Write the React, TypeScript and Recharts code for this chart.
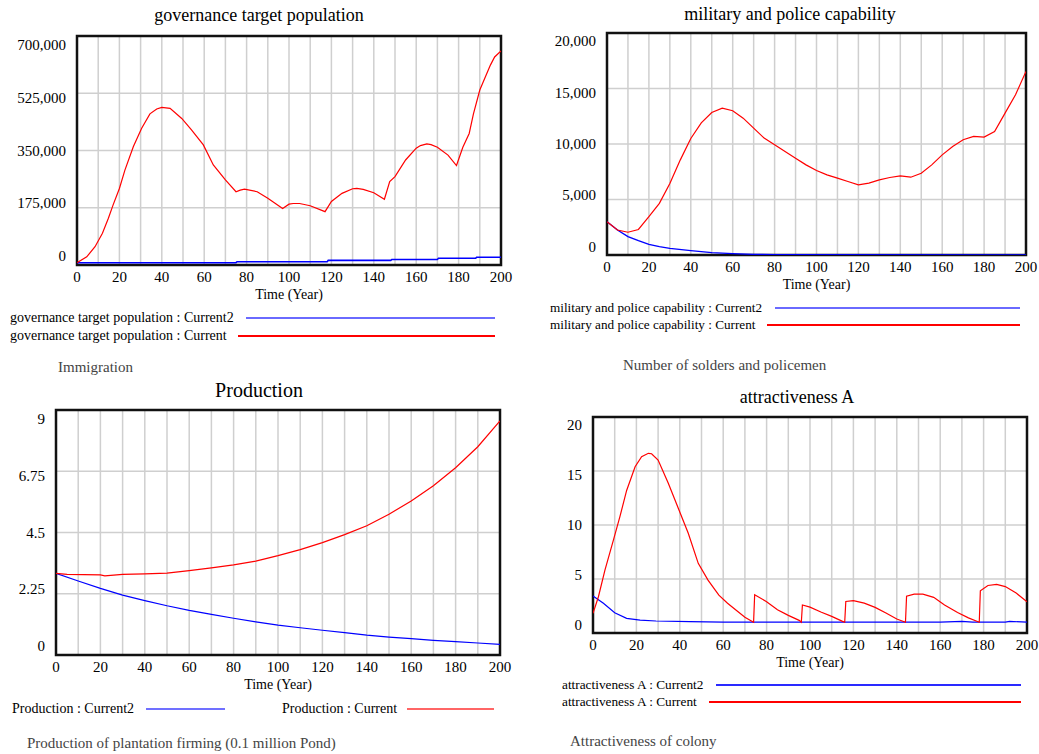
import React from "react"
import { LineChart, Line, XAxis, YAxis, CartesianGrid, ReferenceArea } from "recharts"

// x axis: years, grid every 10, labels every 20
const yearTicks = [0, 10, 20, 30, 40, 50, 60, 70, 80, 90, 100, 110, 120, 130, 140, 150, 160, 170, 180, 190, 200]

// governance target population
const govCurrentTime = [0, 4.6, 8.5, 12, 14.8, 17, 20, 22.6, 26.6, 30.5, 34.4, 37.6, 40, 43.9, 49.4, 54, 59.6, 64.3, 70, 75, 77, 79, 85, 90, 97, 100, 102, 105, 110, 117, 120, 125, 130, 132, 135, 140, 145, 147.5, 150, 155, 160, 162, 165, 167, 170, 175, 179, 182, 185, 187, 190, 195, 197, 200]
const govCurrent = [7000, 25000, 56000, 97000, 143000, 183000, 234000, 290000, 362000, 418000, 462000, 477000, 482000, 479000, 448000, 413000, 367000, 306000, 260000, 224000, 229000, 232000, 224000, 204000, 173000, 186000, 188000, 188000, 181000, 163000, 194000, 219000, 233000, 234000, 231000, 221000, 201000, 255000, 270000, 321000, 357000, 365000, 370000, 368000, 360000, 336000, 304000, 360000, 402000, 462000, 535000, 611000, 636000, 654000]
const govCurrent2Time = [0, 75, 75.5, 118, 118.5, 148, 148.5, 170, 170.5, 188, 188.5, 200]
const govCurrent2 = [7000, 7000, 10000, 10000, 14000, 14000, 17000, 17000, 20500, 20500, 23500, 23500]
const govYTicks = [0, 175000, 350000, 525000, 700000]

// military and police capability
const milCurrentTime = [0, 5, 10, 15, 20, 25, 30, 35, 40, 45, 50, 55, 60, 65, 70, 75, 80, 85, 90, 95, 100, 105, 110, 115, 120, 125, 130, 135, 140, 145, 150, 155, 160, 165, 170, 175, 180, 185, 190, 195, 200]
const milCurrent = [3000, 2250, 2050, 2300, 3450, 4650, 6450, 8570, 10500, 11900, 12840, 13230, 13000, 12330, 11430, 10530, 9930, 9330, 8720, 8120, 7610, 7220, 6920, 6620, 6320, 6470, 6770, 6980, 7130, 7010, 7370, 8120, 9020, 9780, 10380, 10680, 10620, 11130, 12780, 14440, 16540]
const milCurrent2Time = [0, 5, 10, 15, 20, 25, 30, 40, 50, 60, 70, 80, 200]
const milCurrent2 = [3000, 2250, 1650, 1290, 960, 750, 600, 390, 210, 120, 60, 20, 10]
const milYTicks = [0, 5000, 10000, 15000, 20000]

// production
const prodCurrentTime = [0, 5, 20, 22, 30, 40, 50, 60, 70, 80, 90, 100, 110, 120, 130, 140, 150, 160, 170, 180, 190, 200]
const prodCurrent = [3.0, 2.96, 2.94, 2.91, 2.96, 2.98, 3.01, 3.1, 3.2, 3.31, 3.45, 3.65, 3.87, 4.13, 4.42, 4.75, 5.17, 5.66, 6.22, 6.88, 7.65, 8.6]
const prodCurrent2Time = [0, 10, 20, 30, 40, 50, 60, 70, 80, 90, 100, 110, 120, 130, 140, 150, 160, 170, 180, 190, 200]
const prodCurrent2 = [3.0, 2.72, 2.45, 2.2, 2.0, 1.81, 1.64, 1.49, 1.35, 1.22, 1.1, 1.0, 0.91, 0.82, 0.73, 0.66, 0.6, 0.54, 0.49, 0.44, 0.39]
const prodYTicks = [0, 2.25, 4.5, 6.75, 9]

// attractiveness A
const attrCurrentTime = [0, 2.5, 5.5, 9.4, 12.4, 15.5, 19.4, 22.4, 25.5, 27, 30, 34.7, 39.3, 43.9, 48.5, 53, 58, 62, 66, 70, 74, 74.5, 80, 85, 90, 95, 96, 96.5, 100, 105, 110, 115, 116, 116.5, 120, 125, 130, 135, 140, 144, 144.5, 148, 152, 157, 162, 168, 173, 178, 178.5, 182, 186, 190, 195, 200]
const attrCurrent = [1.82, 3.36, 5.83, 8.6, 10.77, 13.2, 15.4, 16.33, 16.64, 16.6, 16.02, 13.86, 11.55, 9.23, 6.45, 4.9, 3.5, 2.75, 2.1, 1.45, 1.0, 3.54, 2.9, 2.15, 1.63, 1.17, 1.0, 2.6, 2.4, 1.94, 1.54, 1.08, 1.0, 2.92, 3.0, 2.77, 2.37, 1.85, 1.3, 1.0, 3.4, 3.6, 3.6, 3.3, 2.6, 1.9, 1.4, 1.0, 3.9, 4.4, 4.5, 4.3, 3.7, 2.9]
const attrCurrent2Time = [0, 4.8, 10, 15.5, 21.7, 29, 44.7, 60, 80, 100, 120, 140, 160, 170, 175, 190, 192, 200]
const attrCurrent2 = [3.43, 2.75, 1.88, 1.36, 1.2, 1.11, 1.05, 1.0, 1.0, 1.0, 1.0, 1.0, 1.0, 1.08, 1.0, 1.0, 1.08, 1.0]
const attrYTicks = [0, 5, 10, 15, 20]

const FONT = '"Liberation Serif", "Times New Roman", serif'

const toPoints = (time: number[], values: number[]) => time.map((t, i) => ({ t, v: values[i] }))

interface Series {
  time: number[]
  values: number[]
  color: string
  width: number
}

interface LegendItem {
  text: string
  tx: number
  y: number
  x1: number
  x2: number
  color: string
  width: number
}

interface PanelProps {
  title: string
  titleSize: number
  titleX: number
  titleY: number
  plot: { l: number; r: number; t: number; b: number }
  yTicks: number[]
  yFormat: (v: number) => string
  series: Series[]
  legend: LegendItem[]
  legendSize: number
  caption: { text: string; x: number; y: number }
}

function Text({ x, y, size, children, center, color }: any) {
  return (
    <div
      style={{
        position: "absolute",
        left: x,
        top: y - size * 0.6,
        lineHeight: `${size * 1.2}px`,
        fontSize: size,
        fontFamily: FONT,
        color: color || "#000",
        whiteSpace: "nowrap",
        transform: center ? "translateX(-50%)" : undefined,
      }}
    >
      {children}
    </div>
  )
}

function Panel(p: PanelProps) {
  const padL = 90
  const padT = 12
  const w = p.plot.r - p.plot.l
  const h = p.plot.b - p.plot.t
  const mid = h / 2 + padT
  const yMax = p.yTicks[p.yTicks.length - 1]

  const xTick = (props: any) => {
    const { x, y, payload } = props
    if (payload.value % 20 !== 0) return <g />
    return (
      <text x={x} y={y + 12} textAnchor="middle" dominantBaseline="central" fontSize={15} fontFamily={FONT} fill="#000">
        {payload.value}
      </text>
    )
  }
  const yTick = (props: any) => {
    const { x, y, payload } = props
    const yy = y + (mid - y) * 0.075
    return (
      <text x={x - 11} y={yy} textAnchor="end" dominantBaseline="central" fontSize={15} fontFamily={FONT} fill="#000">
        {p.yFormat(payload.value)}
      </text>
    )
  }

  return (
    <>
      <Text x={p.titleX} y={p.titleY} size={p.titleSize} center>
        {p.title}
      </Text>
      <div style={{ position: "absolute", left: p.plot.l - padL, top: p.plot.t - padT }}>
        <LineChart width={w + padL + 12} height={h + padT + 30} margin={{ top: padT, right: 12, left: 0, bottom: 0 }}>
          <CartesianGrid stroke="#cfcfcf" strokeWidth={1.5} />
          <XAxis
            type="number"
            dataKey="t"
            domain={[0, 200]}
            ticks={yearTicks}
            interval={0}
            axisLine={false}
            tickLine={false}
            tickSize={0}
            tickMargin={0}
            height={30}
            tick={xTick}
            allowDataOverflow
          />
          <YAxis
            type="number"
            dataKey="v"
            domain={[0, yMax]}
            ticks={p.yTicks}
            interval={0}
            axisLine={false}
            tickLine={false}
            tickSize={0}
            tickMargin={0}
            width={padL}
            tick={yTick}
            allowDataOverflow
          />
          {p.series.map((s, i) => (
            <Line
              key={i}
              data={toPoints(s.time, s.values)}
              dataKey="v"
              type="linear"
              stroke={s.color}
              strokeWidth={s.width}
              dot={false}
              activeDot={false}
              isAnimationActive={false}
            />
          ))}
          <ReferenceArea x1={0} x2={200} y1={0} y2={yMax} fill="none" stroke="#111" strokeWidth={2.5} ifOverflow="visible" />
        </LineChart>
      </div>
      <Text x={(p.plot.l + p.plot.r) / 2} y={p.plot.b + 30} size={14} center>
        Time (Year)
      </Text>
      {p.legend.map((l, i) => (
        <React.Fragment key={i}>
          <Text x={l.tx} y={l.y} size={p.legendSize}>
            {l.text}
          </Text>
          <div
            style={{
              position: "absolute",
              left: l.x1,
              top: l.y - l.width / 2,
              width: l.x2 - l.x1,
              height: l.width,
              background: l.color,
            }}
          />
        </React.Fragment>
      ))}
      <Text x={p.caption.x} y={p.caption.y} size={15} color="#444">
        {p.caption.text}
      </Text>
    </>
  )
}

const commas = (v: number) => v.toLocaleString("en-US")

export default function App() {
  return (
    <div style={{ position: "absolute", left: 0, top: 0, width: 1039, height: 754, background: "#fff", overflow: "hidden" }}>
      <Panel
        title="governance target population"
        titleSize={18}
        titleX={259}
        titleY={16}
        plot={{ l: 77, r: 501, t: 36, b: 265 }}
        yTicks={govYTicks}
        yFormat={commas}
        series={[
          { time: govCurrent2Time, values: govCurrent2, color: "#0000ff", width: 1.6 },
          { time: govCurrentTime, values: govCurrent, color: "#ff0000", width: 1.2 },
        ]}
        legendSize={14}
        legend={[
          { text: "governance target population : Current2", tx: 10, y: 318, x1: 246, x2: 495, color: "#6a6aff", width: 2 },
          { text: "governance target population : Current", tx: 10, y: 336, x1: 238, x2: 495, color: "#ff0000", width: 1.5 },
        ]}
        caption={{ text: "Immigration", x: 58, y: 367 }}
      />
      <Panel
        title="military and police capability"
        titleSize={18}
        titleX={790}
        titleY={15}
        plot={{ l: 607, r: 1026, t: 33, b: 255 }}
        yTicks={milYTicks}
        yFormat={commas}
        series={[
          { time: milCurrent2Time, values: milCurrent2, color: "#0000ff", width: 1.4 },
          { time: milCurrentTime, values: milCurrent, color: "#ff0000", width: 1.2 },
        ]}
        legendSize={13.2}
        legend={[
          { text: "military and police capability : Current2", tx: 550, y: 308, x1: 775, x2: 1020, color: "#6a6aff", width: 2 },
          { text: "military and police capability : Current", tx: 550, y: 325, x1: 767, x2: 1020, color: "#ff0000", width: 1.5 },
        ]}
        caption={{ text: "Number of solders and policemen", x: 623, y: 365 }}
      />
      <Panel
        title="Production"
        titleSize={20}
        titleX={259}
        titleY={390}
        plot={{ l: 56, r: 500, t: 410, b: 655 }}
        yTicks={prodYTicks}
        yFormat={(v) => String(v)}
        series={[
          { time: prodCurrent2Time, values: prodCurrent2, color: "#0000ff", width: 1.2 },
          { time: prodCurrentTime, values: prodCurrent, color: "#ff0000", width: 1.2 },
        ]}
        legendSize={14}
        legend={[
          { text: "Production : Current2", tx: 12, y: 709, x1: 146, x2: 225, color: "#7070ff", width: 2 },
          { text: "Production : Current", tx: 282, y: 709, x1: 407, x2: 494, color: "#ff6666", width: 2 },
        ]}
        caption={{ text: "Production of plantation firming (0.1 million Pond)", x: 27, y: 743 }}
      />
      <Panel
        title="attractiveness A"
        titleSize={18}
        titleX={797}
        titleY={398}
        plot={{ l: 593, r: 1027, t: 417, b: 633 }}
        yTicks={attrYTicks}
        yFormat={(v) => String(v)}
        series={[
          { time: attrCurrent2Time, values: attrCurrent2, color: "#0000ff", width: 1.2 },
          { time: attrCurrentTime, values: attrCurrent, color: "#ff0000", width: 1.2 },
        ]}
        legendSize={13.3}
        legend={[
          { text: "attractiveness A : Current2", tx: 562, y: 685, x1: 716, x2: 1021, color: "#2a2aff", width: 1.5 },
          { text: "attractiveness A : Current", tx: 562, y: 702, x1: 709, x2: 1021, color: "#ff0000", width: 1.5 },
        ]}
        caption={{ text: "Attractiveness of colony", x: 570, y: 741 }}
      />
    </div>
  )
}
